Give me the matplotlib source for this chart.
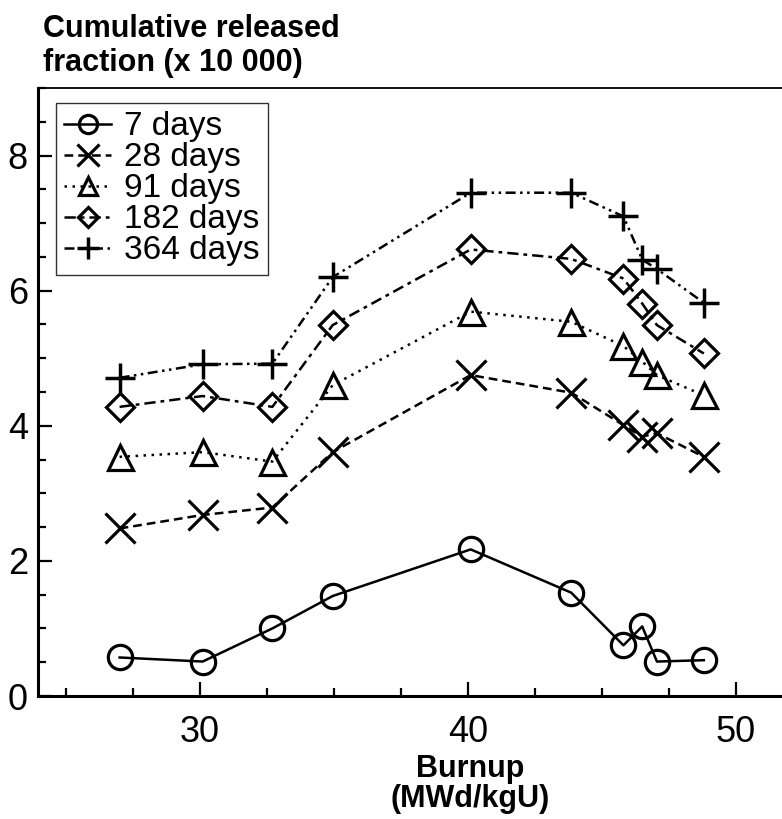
import matplotlib
matplotlib.use("Agg")
import matplotlib.pyplot as plt
from matplotlib.ticker import MultipleLocator

plt.rcParams["font.family"] = ["Liberation Sans", "DejaVu Sans"]

# =========================
# Data
# =========================
burnup = [27.0, 30.1, 32.7, 34.95, 40.1, 43.85, 45.8, 46.5, 47.05, 48.8]

days_7 = [0.57, 0.51, 1.00, 1.48, 2.17, 1.53, 0.75, 1.03, 0.51, 0.53]
days_28 = [2.48, 2.68, 2.79, 3.61, 4.75, 4.49, 4.01, 3.84, 3.89, 3.54]
days_91 = [3.54, 3.61, 3.47, 4.60, 5.69, 5.54, 5.18, 4.95, 4.75, 4.45]
days_182 = [4.28, 4.44, 4.28, 5.49, 6.61, 6.47, 6.18, 5.81, 5.49, 5.07]
days_364 = [4.71, 4.91, 4.92, 6.20, 7.45, 7.45, 7.10, 6.46, 6.32, 5.82]

labels = ["7 days", "28 days", "91 days", "182 days", "364 days"]

# =========================
# Figure / axes layout
# =========================
W, H = 782, 819
fig = plt.figure(figsize=(W / 100, H / 100), dpi=100)

ax_left, ax_bottom, ax_top = 37.7, 696, 88
ax = fig.add_axes([ax_left / W, (H - ax_bottom) / H,
                   (W - ax_left) / W, (ax_bottom - ax_top) / H])

px_per_unit = 26.8
x0 = 30 - (200 - ax_left) / px_per_unit
ax.set_xlim(x0, x0 + (W - ax_left) / px_per_unit)
ax.set_ylim(0, 9.0)

# =========================
# Series
# =========================
lw = 1.8
mew = 2.3
ax.plot(burnup, days_7, color="black", lw=lw, linestyle="-",
        marker="o", ms=17.5, mfc="none", mew=mew, label=labels[0])
ax.plot(burnup, days_28, color="black", lw=lw, dashes=(3.5, 2),
        marker="x", ms=21, mew=mew, label=labels[1])
ax.plot(burnup, days_91, color="black", lw=lw, dashes=(1, 2.2),
        marker="^", ms=18, mfc="none", mew=mew, label=labels[2])
ax.plot(burnup, days_182, color="black", lw=lw, dashes=(4.5, 2, 1.5, 2),
        marker="D", ms=14, mfc="none", mew=mew, label=labels[3])
ax.plot(burnup, days_364, color="black", lw=lw, dashes=(4, 1.8, 1, 1.8, 1, 1.8),
        marker="+", ms=22, mew=mew + 0.2, label=labels[4])

# =========================
# Axes styling
# =========================
ax.spines["right"].set_visible(False)
ax.spines["left"].set_linewidth(2.2)
ax.spines["bottom"].set_linewidth(2.2)
ax.spines["top"].set_linewidth(1.3)

ax.xaxis.set_major_locator(MultipleLocator(10))
ax.xaxis.set_minor_locator(MultipleLocator(2.5))
ax.yaxis.set_major_locator(MultipleLocator(2))
ax.yaxis.set_minor_locator(MultipleLocator(0.5))

ax.tick_params(which="both", direction="in", top=False, right=False,
               width=1.6, labelsize=26)
ax.tick_params(which="major", length=10)
ax.tick_params(which="minor", length=6)
ax.tick_params(axis="x", which="major", pad=14)
ax.tick_params(axis="y", which="major", pad=7)

ax.set_xlabel("Burnup\n(MWd/kgU)", fontsize=22, fontweight="bold",
              linespacing=1.0)
ax.xaxis.set_label_coords((470 - ax_left) / (W - ax_left),
                          -(754 - ax_bottom) / (ax_bottom - ax_top))
ax.xaxis.label.set_va("top")

fig.text(43 / W, 1 - 14 / H, "Cumulative released\nfraction (x 10 000)",
         fontsize=22, fontweight="bold", ha="left", va="top",
         linespacing=1.18)

leg = ax.legend(loc="upper left",
                bbox_to_anchor=((56 - ax_left) / (W - ax_left),
                                (ax_bottom - 103) / (ax_bottom - ax_top)),
                borderaxespad=0, fontsize=24, handlelength=1.4,
                handletextpad=0.4, labelspacing=0.0, borderpad=0.25,
                frameon=True, fancybox=False, markerscale=0.75)
leg.get_frame().set_edgecolor("black")
leg.get_frame().set_linewidth(1.0)

fig.savefig("out.png", dpi=100)
